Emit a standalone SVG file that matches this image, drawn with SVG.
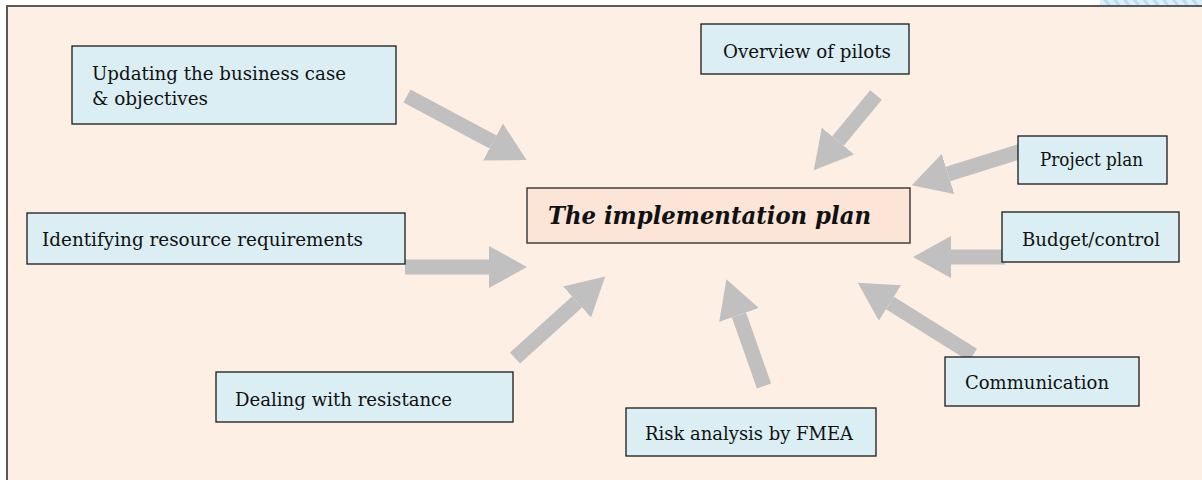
<svg xmlns="http://www.w3.org/2000/svg" width="1202" height="480" viewBox="0 0 1202 480">
<defs>
<style>
.bg{fill:#FDEFE3;stroke:#595959;stroke-width:2}
.node{fill:#DAEEF3;stroke:#1a1a1a;stroke-width:1.3}
.center{fill:#FCE4D6;stroke:#404040;stroke-width:1.5}
.lbl{font-family:"DejaVu Serif","Liberation Serif",serif;font-size:18px;fill:#111}
.title{font-family:"DejaVu Serif","Liberation Serif",serif;font-size:25px;font-weight:bold;font-style:italic;fill:#111}
.arr{stroke:#C0C0C0;stroke-width:15;fill:none;marker-end:url(#head)}
</style>
<marker id="head" markerUnits="userSpaceOnUse" markerWidth="40" markerHeight="42" viewBox="0 0 40 42" refX="0" refY="21" orient="auto">
<path d="M0,0 L38,21 L0,42 Z" fill="#C0C0C0"/>
</marker>
<pattern id="stripes" patternUnits="userSpaceOnUse" width="8" height="8" patternTransform="rotate(-35)">
<rect width="8" height="8" fill="#DCEFFA"/>
<rect width="3" height="8" fill="#B8DDF2"/>
</pattern>
</defs>
<rect x="0" y="0" width="1202" height="480" fill="#FFFFFF"/>
<rect x="1100" y="0" width="102" height="6" fill="url(#stripes)"/>
<rect class="bg" x="7" y="6" width="1210" height="490"/>
<g id="connectors">
<line class="arr" x1="407" y1="96" x2="493" y2="142"/>
<line class="arr" x1="876" y1="95" x2="838" y2="141"/>
<line class="arr" x1="1025" y1="150" x2="948" y2="174"/>
<line class="arr" x1="1005" y1="257" x2="951" y2="257"/>
<line class="arr" x1="405" y1="267" x2="489" y2="267"/>
<line class="arr" x1="515" y1="358" x2="577" y2="302"/>
<line class="arr" x1="764" y1="386" x2="739" y2="315"/>
<line class="arr" x1="973" y1="355" x2="890" y2="303"/>
</g>
<g id="center">
<rect class="center" x="527" y="188" width="383" height="55"/>
<text class="title" x="548" y="224" textLength="323" lengthAdjust="spacingAndGlyphs">The implementation plan</text>
</g>
<g id="n-updating">
<rect class="node" x="72" y="46" width="324" height="78"/>
<text class="lbl" x="92" y="80" textLength="254" lengthAdjust="spacingAndGlyphs">Updating the business case</text>
<text class="lbl" x="92" y="105" textLength="116" lengthAdjust="spacingAndGlyphs">&amp; objectives</text>
</g>
<g id="n-overview">
<rect class="node" x="701" y="24" width="208" height="50"/>
<text class="lbl" x="723" y="58" textLength="168" lengthAdjust="spacingAndGlyphs">Overview of pilots</text>
</g>
<g id="n-project">
<rect class="node" x="1018" y="136" width="149" height="48"/>
<text class="lbl" x="1040" y="166" textLength="103" lengthAdjust="spacingAndGlyphs">Project plan</text>
</g>
<g id="n-budget">
<rect class="node" x="1002" y="212" width="177" height="50"/>
<text class="lbl" x="1022" y="246" textLength="138" lengthAdjust="spacingAndGlyphs">Budget/control</text>
</g>
<g id="n-identifying">
<rect class="node" x="27" y="213" width="378" height="51"/>
<text class="lbl" x="42" y="246" textLength="321" lengthAdjust="spacingAndGlyphs">Identifying resource requirements</text>
</g>
<g id="n-dealing">
<rect class="node" x="216" y="372" width="297" height="50"/>
<text class="lbl" x="235" y="406" textLength="217" lengthAdjust="spacingAndGlyphs">Dealing with resistance</text>
</g>
<g id="n-risk">
<rect class="node" x="626" y="408" width="250" height="48"/>
<text class="lbl" x="645" y="440" textLength="208" lengthAdjust="spacingAndGlyphs">Risk analysis by FMEA</text>
</g>
<g id="n-communication">
<rect class="node" x="945" y="357" width="194" height="49"/>
<text class="lbl" x="965" y="389" textLength="144" lengthAdjust="spacingAndGlyphs">Communication</text>
</g>
</svg>
